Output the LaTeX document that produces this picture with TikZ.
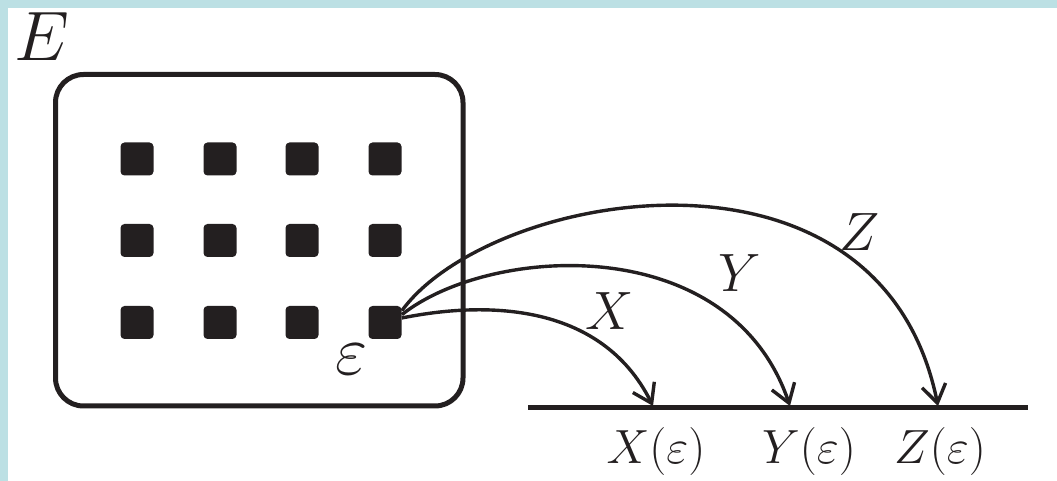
\documentclass[tikz,border=0pt]{standalone}
\usepackage{fix-cm}
\usepackage{xcolor}
\usetikzlibrary{arrows.meta, positioning, calc}

\definecolor{ink}{HTML}{231F20}
\definecolor{bandblue}{RGB}{188,224,228}

\begin{document}
\begin{tikzpicture}[
  x=0.5pt, y=-0.5pt,
  dot/.style={fill=ink, minimum size=16.5pt, inner sep=0pt, rounded corners=2pt},
  map/.style={draw=ink, line width=1.7pt, -{Straight Barb[length=9pt, width=12pt]}},
  biglabel/.style={text=ink, font=\fontsize{35}{40}\selectfont},
  maplabel/.style={text=ink, font=\fontsize{27}{32}\selectfont},
  vallabel/.style={text=ink, font=\fontsize{24}{28}\selectfont},
]
  \useasboundingbox (0,0) rectangle (1057,481);
  % Frame bands
  \fill[bandblue] (0,0) rectangle (1057,8);
  \fill[bandblue] (0,0) rectangle (8,481);

  % Space E
  \node[biglabel] (elabel) at (42,37) {$E$};
  \node[draw=ink, line width=2.5pt, rounded corners=14pt, minimum width=203.75pt, minimum height=165.75pt] (space) at (259.25,240.25) {};
  \foreach \c/\x in {1/137, 2/220, 3/302, 4/385}
    \foreach \r/\y in {1/159, 2/240.5, 3/322.5}
      \node[dot] (sq-\c-\r) at (\x,\y) {};
  \node[biglabel] (eps) at (352,359) {$\varepsilon$};

  % Real line
  \draw[ink, line width=2.5pt] (528,408) coordinate (line-l) -- (1028,408) coordinate (line-r);
  \coordinate (xe) at (653,406);
  \coordinate (ye) at (790,406);
  \coordinate (ze) at (938,406);
  \node[vallabel] (xval) at (656,452) {$X(\varepsilon)$};
  \node[vallabel] (yval) at (809,452) {$Y(\varepsilon)$};
  \node[vallabel] (zval) at (940,452) {$Z(\varepsilon)$};

  % Random variables
  \draw[map] (sq-4-3.15) .. controls (481,302) and (600,300) .. (xe);
  \draw[map] (sq-4-3.25) .. controls (490,245) and (730,230) .. (ye);
  \draw[map] (sq-4-3.35) .. controls (490,190) and (880,120) .. (ze);
  \node[maplabel] (xmap) at (610,311) {$X$};
  \node[maplabel] (ymap) at (740,273) {$Y$};
  \node[maplabel] (zmap) at (860,232) {$Z$};
\end{tikzpicture}
\end{document}
